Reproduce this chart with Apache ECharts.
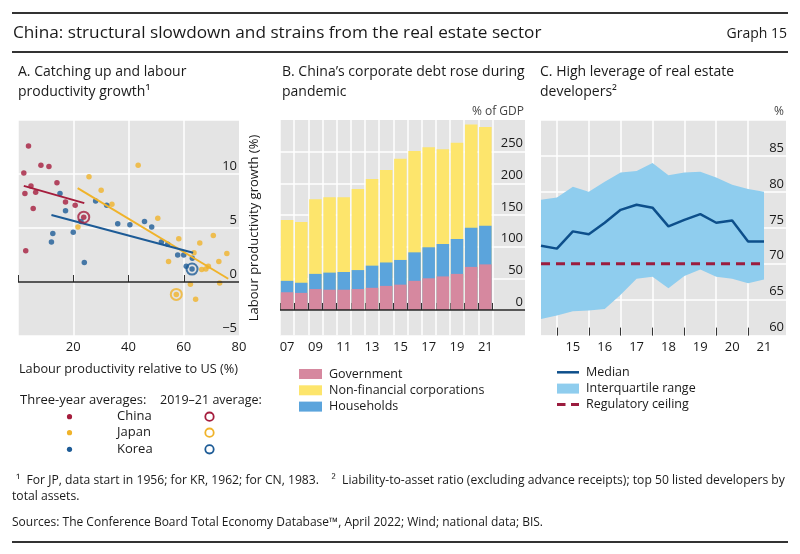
<!DOCTYPE html>
<html><head><meta charset="utf-8">
<script src="https://cdn.jsdelivr.net/npm/echarts@6/dist/echarts.min.js"></script>
<style>html,body{margin:0;padding:0;background:#fff}#c{width:800px;height:554px}</style>
</head><body><div id="c"></div>
<script>
// ---------- Panel A: [labour productivity relative to US (%), labour productivity growth (%)]
const chinaPts = [[3.8,12.6],[8.3,10.8],[11.2,10.7],[2.1,10.1],[14.1,9.2],[4.7,8.9],[2.5,8.2],[6.4,8.3],[5.5,6.8],[17.2,7.4],[20.7,7.1],[2.8,2.9]];
const japanPts = [[43.5,10.8],[25.7,9.75],[30.1,8.5],[34.0,7.2],[21.7,5.1],[50.6,5.9],[58.2,4.0],[65.8,3.6],[70.7,4.3],[54.5,1.9],[63.7,2.7],[75.6,2.65],[72.7,1.9],[66.5,1.15],[68.0,1.2],[68.9,1.45],[62.4,-0.2],[73.0,-0.1],[64.3,-1.6]];
const koreaPts = [[15.2,8.2],[17.2,6.6],[12.6,4.5],[12.1,3.7],[20.0,4.6],[24.0,1.8],[28.1,7.5],[32.1,7.1],[36.1,5.4],[40.5,5.3],[45.8,5.6],[48.4,5.1],[51.9,3.7],[54.2,3.5],[57.8,2.5],[60.0,2.5],[63.1,2.2],[60.9,1.45],[22.8,5.6]];
const chinaLatest = [[23.8,6.0]];
const japanLatest = [[57.3,-1.15]];
const koreaLatest = [[63.0,1.2]];
const chinaFit = [[2.1,8.9],[24.0,7.3]];
const japanFit = [[21.6,8.7],[76.1,0.3]];
const koreaFit = [[12.1,6.2],[63.4,2.7]];
const aXTicks = [0,20,40,60];
const aXLabels = [20,40,60,80];
const aYLabels = [-5,0,5,10];

// ---------- Panel B: % of GDP
const yearsB = [2007,2008,2009,2010,2011,2012,2013,2014,2015,2016,2017,2018,2019,2020,2021];
const government = [28,27,33,32,32,33,35,38,40,46,50,53,57,68,72];
const households = [18,16,24,27,28,30,35,37,39,45,49,51,55,62,61];
const nonFinCorp = [96,96,118,119,118,128,137,146,160,160,158,150,152,163,156];
const bXLabels = [2007,2009,2011,2013,2015,2017,2019,2021];
const bYLabels = [0,50,100,150,200,250];

// ---------- Panel C: liability-to-asset ratio (%), half-yearly
const timeC = [2014.5,2015,2015.5,2016,2016.5,2017,2017.5,2018,2018.5,2019,2019.5,2020,2020.5,2021,2021.5];
const medianC = [72.5,72.1,74.5,74.1,75.7,77.5,78.2,77.8,75.2,76.1,76.9,75.7,76.0,73.1,73.1];
const upperC = [78.9,79.2,80.7,80.0,81.4,82.7,82.9,84.0,82.3,82.7,82.8,82.0,81.0,80.4,80.0];
const lowerC = [62.3,62.8,63.4,63.5,63.7,65.7,67.9,68.2,66.6,68.3,69.2,68.2,67.9,67.3,67.8];
const ceilingC = 70;
const cXTicks = [2015,2016,2017,2018,2019,2020,2021];
const cXLabels = [2015.5,2016.5,2017.5,2018.5,2019.5,2020.5,2021.5];
const cYLabels = [60,65,70,75,80,85];

const FONT = '"Open Sans", "Noto Sans", sans-serif';
const TXT = '#1a1a1a';
const RED = '#a51d3d', GOLD = '#f0b32a', BLUE = '#1d5b96';
const GRAY = '#e4e4e4';
const PINK = '#d6889f', YEL = '#fde56c', HHB = '#5ba4dc';
const BAND = '#8fcdee', MED = '#0d4f8b', CEIL = '#9b1c3e';

const chart = echarts.init(document.getElementById('c'), null, {renderer:'canvas'});

const splitWhite = {show:true, lineStyle:{color:'#ffffff', width:1.5}};
const yLab = (vals, fmt) => ({customValues: vals, inside:true, margin:2, align:'right', verticalAlign:'bottom',
  fontFamily:FONT, fontSize:13, color:TXT, lineHeight:16, formatter: fmt || (v => v < 0 ? '\u2212' + (-v) : String(v))});
const xLab = (vals, fmt) => ({customValues: vals, margin:5, fontFamily:FONT, fontSize:13, color:TXT, formatter: fmt});
const tickIn = (vals, len) => ({show:true, inside:true, length:len, customValues: vals, lineStyle:{color:'#333', width:1}});
const zeroLine = {symbol:'none', silent:true, label:{show:false}, lineStyle:{color:'#222', width:1.5, type:'solid'}, data:[{yAxis:0}]};
const pairs = (xs, ys) => xs.map((x,i)=>[x, ys[i]]);

// cumulative tops for the stacked bars (stack order: government, households, corporations)
const hhTop = government.map((g,i)=>g + households[i]);
const totalTop = hhTop.map((h,i)=>h + nonFinCorp[i]);

const option = {
  animation:false,
  grid:[
    {left:18, top:120, width:221, height:216, show:true, backgroundColor:GRAY, borderWidth:0},
    {left:280, top:120, width:245, height:215.3, show:true, backgroundColor:GRAY, borderWidth:0},
    {left:541, top:120, width:245, height:215.6, show:true, backgroundColor:GRAY, borderWidth:0}
  ],
  xAxis:[
    {gridIndex:0, type:'value', min:0, max:80, interval:20, axisLine:{show:false},
     axisTick:tickIn(aXTicks,7), axisLabel:xLab(aXLabels), splitLine:splitWhite},
    {gridIndex:1, type:'value', min:2006.5, max:2023.8, axisLine:{show:false},
     axisTick:tickIn(yearsB.map(y=>y-0.5).concat([yearsB[yearsB.length-1]+0.5]),7),
     axisLabel:xLab(bXLabels, v => String(v).slice(2)), splitLine:splitWhite},
    {gridIndex:2, type:'value', min:2014.5, max:2022.19, axisLine:{show:false},
     axisTick:tickIn(cXTicks,8), axisLabel:xLab(cXLabels, v => String(Math.floor(v)).slice(2)), splitLine:splitWhite}
  ],
  yAxis:[
    {gridIndex:0, type:'value', position:'right', min:-5, max:15, interval:5, axisLine:{show:false},
     axisTick:{show:false}, axisLabel:yLab(aYLabels), splitLine:splitWhite},
    {gridIndex:1, type:'value', position:'right', min:-40, max:300, axisLine:{show:false},
     axisTick:{show:false, customValues:bYLabels}, axisLabel:yLab(bYLabels), splitLine:splitWhite},
    {gridIndex:2, type:'value', position:'right', min:60, max:90, interval:5, axisLine:{show:false},
     axisTick:{show:false}, axisLabel:yLab(cYLabels), splitLine:splitWhite}
  ],
  legend:[
    {orient:'vertical', left:294, top:362, itemWidth:23, itemHeight:10, itemGap:2.3, icon:'rect',
     textStyle:{fontFamily:FONT, fontSize:12.5, color:TXT, lineHeight:14, padding:[0,0,0,2]},
     data:['Government','Non-financial corporations','Households'], selectedMode:false}
  ],
  series:[
    // Panel A
    {type:'scatter', name:'China', xAxisIndex:0, yAxisIndex:0, data:chinaPts, symbolSize:5.5, itemStyle:{color:RED}, markLine:zeroLine, z:2},
    {type:'scatter', name:'Japan', xAxisIndex:0, yAxisIndex:0, data:japanPts, symbolSize:5.5, itemStyle:{color:GOLD}, z:2},
    {type:'scatter', name:'Korea', xAxisIndex:0, yAxisIndex:0, data:koreaPts, symbolSize:5.5, itemStyle:{color:BLUE}, z:2},
    {type:'line', xAxisIndex:0, yAxisIndex:0, data:chinaFit, symbol:'none', lineStyle:{color:RED, width:2}, z:3},
    {type:'line', xAxisIndex:0, yAxisIndex:0, data:japanFit, symbol:'none', lineStyle:{color:GOLD, width:2}, z:3},
    {type:'line', xAxisIndex:0, yAxisIndex:0, data:koreaFit, symbol:'none', lineStyle:{color:BLUE, width:2}, z:3},
    {type:'scatter', xAxisIndex:0, yAxisIndex:0, data:chinaLatest, symbolSize:5.5, itemStyle:{color:RED}, z:4},
    {type:'scatter', xAxisIndex:0, yAxisIndex:0, data:japanLatest, symbolSize:5.5, itemStyle:{color:GOLD}, z:4},
    {type:'scatter', xAxisIndex:0, yAxisIndex:0, data:koreaLatest, symbolSize:5.5, itemStyle:{color:BLUE}, z:4},
    {type:'scatter', xAxisIndex:0, yAxisIndex:0, data:chinaLatest, symbolSize:11, itemStyle:{color:'rgba(0,0,0,0)', borderColor:RED, borderWidth:2}, z:4},
    {type:'scatter', xAxisIndex:0, yAxisIndex:0, data:japanLatest, symbolSize:11, itemStyle:{color:'rgba(0,0,0,0)', borderColor:GOLD, borderWidth:2}, z:4},
    {type:'scatter', xAxisIndex:0, yAxisIndex:0, data:koreaLatest, symbolSize:11, itemStyle:{color:'rgba(0,0,0,0)', borderColor:BLUE, borderWidth:2}, z:4},
    // Panel B (stacked: drawn as overlapping cumulative bars, top segment first)
    {type:'bar', name:'Non-financial corporations', xAxisIndex:1, yAxisIndex:1, barWidth:12.5, barGap:'-100%', data:pairs(yearsB, totalTop), itemStyle:{color:YEL}, markLine:zeroLine, z:2},
    {type:'bar', name:'Households', xAxisIndex:1, yAxisIndex:1, barWidth:12.5, barGap:'-100%', data:pairs(yearsB, hhTop), itemStyle:{color:HHB}, z:3},
    {type:'bar', name:'Government', xAxisIndex:1, yAxisIndex:1, barWidth:12.5, barGap:'-100%', data:pairs(yearsB, government), itemStyle:{color:PINK}, z:4},
    // Panel C
    {type:'custom', name:'Interquartile range', xAxisIndex:2, yAxisIndex:2, data:pairs(timeC, upperC), itemStyle:{color:BAND}, z:2,
     encode:{x:0, y:1},
     renderItem:(params, api) => {
       if (params.dataIndex !== 0) return null;
       const pts = [];
       for (let i = 0; i < timeC.length; i++) pts.push(api.coord([timeC[i], upperC[i]]));
       for (let i = timeC.length - 1; i >= 0; i--) pts.push(api.coord([timeC[i], lowerC[i]]));
       return {type:'polygon', shape:{points:pts}, style:{fill:BAND}};
     }},
    {type:'line', name:'Median', xAxisIndex:2, yAxisIndex:2, data:pairs(timeC, medianC), symbol:'none', lineStyle:{color:MED, width:2.5}, z:5},
    {type:'line', name:'Regulatory ceiling', xAxisIndex:2, yAxisIndex:2, data:timeC.map(t=>[t, ceilingC]), symbol:'none', lineStyle:{color:CEIL, width:3, type:[9,6]}, z:5}
  ],
  graphic:[
    {type:'line', shape:{x1:12,y1:13,x2:788,y2:13}, style:{stroke:'#333', lineWidth:2}},
    {type:'text', x:13, y:33, style:{text:'China: structural slowdown and strains from the real estate sector', font:'17.2px '+FONT, fill:TXT, align:'left', verticalAlign:'middle'}},
    {type:'text', x:787, y:34, style:{text:'Graph 15', font:'14px '+FONT, fill:TXT, align:'right', verticalAlign:'middle'}},
    {type:'line', shape:{x1:12,y1:52,x2:788,y2:52}, style:{stroke:'#333', lineWidth:2}},
    {type:'text', x:18, y:72, style:{text:'A. Catching up and labour', font:'14px '+FONT, fill:TXT, verticalAlign:'middle'}},
    {type:'text', x:18, y:92, style:{text:'productivity growth\u00b9', font:'14px '+FONT, fill:TXT, verticalAlign:'middle'}},
    {type:'text', x:282, y:72, style:{text:'B. China\u2019s corporate debt rose during', font:'14px '+FONT, fill:TXT, verticalAlign:'middle'}},
    {type:'text', x:282, y:92, style:{text:'pandemic', font:'14px '+FONT, fill:TXT, verticalAlign:'middle'}},
    {type:'text', x:540, y:72, style:{text:'C. High leverage of real estate', font:'14px '+FONT, fill:TXT, verticalAlign:'middle'}},
    {type:'text', x:540, y:92, style:{text:'developers\u00b2', font:'14px '+FONT, fill:TXT, verticalAlign:'middle'}},
    {type:'text', x:524, y:112, style:{text:'% of GDP', font:'12px '+FONT, fill:'#444', align:'right', verticalAlign:'middle'}},
    {type:'text', x:784, y:112, style:{text:'%', font:'12px '+FONT, fill:'#444', align:'right', verticalAlign:'middle'}},
    {type:'text', x:254, y:228, rotation:Math.PI/2, style:{text:'Labour productivity growth (%)', font:'13px '+FONT, fill:TXT, align:'center', verticalAlign:'middle'}},
    {type:'text', x:19, y:369, style:{text:'Labour productivity relative to US (%)', font:'12.7px '+FONT, fill:TXT, verticalAlign:'middle'}},
    {type:'text', x:20, y:400, style:{text:'Three-year averages:', font:'13px '+FONT, fill:TXT, verticalAlign:'middle'}},
    {type:'text', x:160, y:400, style:{text:'2019\u201321 average:', font:'12.5px '+FONT, fill:TXT, verticalAlign:'middle'}},
    {type:'circle', shape:{cx:69.5, cy:416.7, r:2.6}, style:{fill:RED}},
    {type:'circle', shape:{cx:69.5, cy:432.7, r:2.6}, style:{fill:GOLD}},
    {type:'circle', shape:{cx:69.5, cy:449.3, r:2.6}, style:{fill:BLUE}},
    {type:'text', x:117, y:416.7, style:{text:'China', font:'13px '+FONT, fill:TXT, verticalAlign:'middle'}},
    {type:'text', x:117, y:432.7, style:{text:'Japan', font:'13px '+FONT, fill:TXT, verticalAlign:'middle'}},
    {type:'text', x:117, y:449.3, style:{text:'Korea', font:'13px '+FONT, fill:TXT, verticalAlign:'middle'}},
    {type:'circle', shape:{cx:209.5, cy:416.7, r:4.2}, style:{fill:'none', stroke:RED, lineWidth:1.8}},
    {type:'circle', shape:{cx:209.5, cy:432.7, r:4.2}, style:{fill:'none', stroke:GOLD, lineWidth:1.8}},
    {type:'circle', shape:{cx:209.5, cy:449.3, r:4.2}, style:{fill:'none', stroke:BLUE, lineWidth:1.8}},
    // Panel C legend
    {type:'line', shape:{x1:557,y1:372.3,x2:579,y2:372.3}, style:{stroke:MED, lineWidth:2.5}},
    {type:'rect', shape:{x:557,y:383.6,width:22,height:10}, style:{fill:BAND}},
    {type:'line', shape:{x1:557,y1:404.6,x2:579,y2:404.6}, style:{stroke:CEIL, lineWidth:3, lineDash:[8.5,5.5]}},
    {type:'text', x:586, y:372.3, style:{text:'Median', font:'12.5px '+FONT, fill:TXT, verticalAlign:'middle'}},
    {type:'text', x:586, y:388.6, style:{text:'Interquartile range', font:'12.5px '+FONT, fill:TXT, verticalAlign:'middle'}},
    {type:'text', x:586, y:404.6, style:{text:'Regulatory ceiling', font:'12.5px '+FONT, fill:TXT, verticalAlign:'middle'}},
    // Footnotes
    {type:'text', x:16, y:481, style:{text:'\u00b9  For JP, data start in 1956; for KR, 1962; for CN, 1983.    \u00b2  Liability-to-asset ratio (excluding advance receipts); top 50 listed developers by', font:'12.15px '+FONT, fill:TXT, verticalAlign:'middle'}},
    {type:'text', x:12, y:497, style:{text:'total assets.', font:'12.15px '+FONT, fill:TXT, verticalAlign:'middle'}},
    {type:'text', x:12, y:523, style:{text:'Sources: The Conference Board Total Economy Database\u2122, April 2022; Wind; national data; BIS.', font:'12px '+FONT, fill:TXT, verticalAlign:'middle'}},
    {type:'line', shape:{x1:12,y1:542,x2:788,y2:542}, style:{stroke:'#333', lineWidth:2}}
  ]
};
chart.setOption(option);
</script>
</body></html>
